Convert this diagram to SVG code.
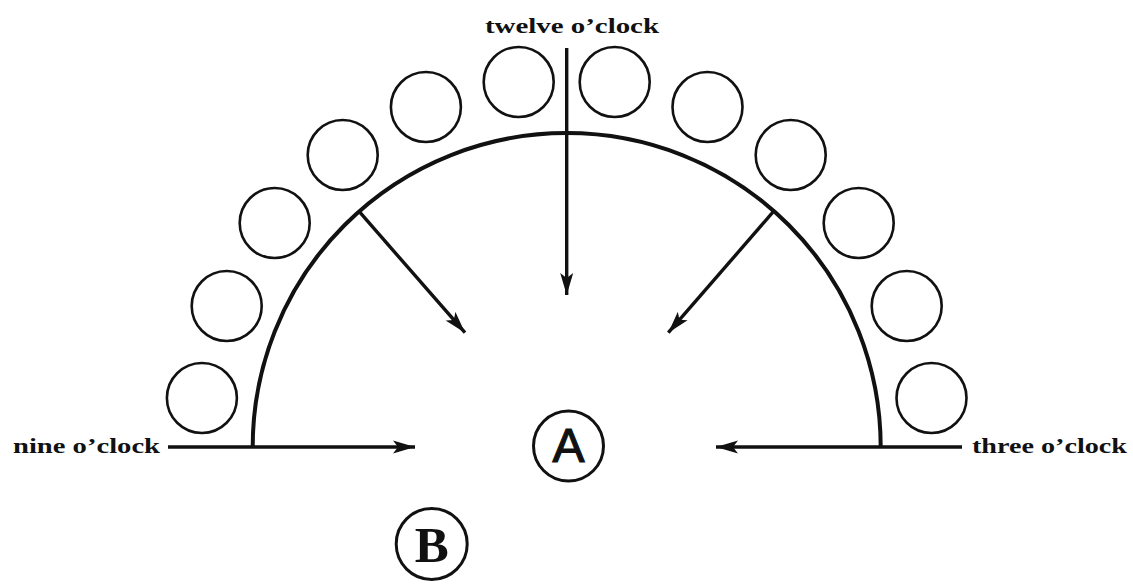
<svg xmlns="http://www.w3.org/2000/svg" width="1133" height="584" viewBox="0 0 1133 584">
<style>
.ball{fill:none;stroke:#111;stroke-width:2.6}
.arc{fill:none;stroke:#111;stroke-width:4}
.arr{fill:none;stroke:#111;stroke-width:3.4}
.lbl{font-family:"Liberation Serif",serif;font-weight:bold;font-size:21px;fill:#111}
.ring{fill:#fff;stroke:#111;stroke-width:3}
</style>
<defs>
<marker id="ah" markerUnits="userSpaceOnUse" markerWidth="24" markerHeight="14" refX="22" refY="7" orient="auto">
<path d="M0,0.5 L22,7 L0,13.5 L5,7 z" fill="#111"/>
</marker>
</defs>
<rect width="1133" height="584" fill="#fff"/>
<g id="dome">
<path class="arc" d="M252.7,447 A314,314 0 0 1 880.7,447"/>
</g>
<g id="balls">
<circle class="ball" cx="518.7" cy="82" r="35"/>
<circle class="ball" cx="425.9" cy="107" r="35"/>
<circle class="ball" cx="342.7" cy="155" r="35"/>
<circle class="ball" cx="274.7" cy="223" r="35"/>
<circle class="ball" cx="226.7" cy="306" r="35"/>
<circle class="ball" cx="201.9" cy="398" r="35"/>
<circle class="ball" cx="614.7" cy="82" r="35"/>
<circle class="ball" cx="707.5" cy="107" r="35"/>
<circle class="ball" cx="790.7" cy="155" r="35"/>
<circle class="ball" cx="858.7" cy="223" r="35"/>
<circle class="ball" cx="906.7" cy="306" r="35"/>
<circle class="ball" cx="931.5" cy="398" r="35"/>
</g>
<g id="connectors">
<line class="arr" x1="566.7" y1="48" x2="566.7" y2="295" marker-end="url(#ah)"/>
<line class="arr" x1="359.3" y1="211.7" x2="465" y2="332.7" marker-end="url(#ah)"/>
<line class="arr" x1="773.3" y1="211.7" x2="668.3" y2="332.7" marker-end="url(#ah)"/>
<line class="arr" x1="168" y1="447" x2="415" y2="447" marker-end="url(#ah)"/>
<line class="arr" x1="962" y1="447" x2="716" y2="447" marker-end="url(#ah)"/>
</g>
<g id="label-twelve"><text class="lbl" x="485" y="33" textLength="174" lengthAdjust="spacingAndGlyphs">twelve o’clock</text></g>
<g id="label-nine"><text class="lbl" x="13" y="453" textLength="147" lengthAdjust="spacingAndGlyphs">nine o’clock</text></g>
<g id="label-three"><text class="lbl" x="972" y="453" textLength="155" lengthAdjust="spacingAndGlyphs">three o’clock</text></g>
<g id="node-A">
<circle class="ring" cx="568.5" cy="446" r="35"/>
<text x="568.5" y="462" text-anchor="middle" font-family="Liberation Sans, sans-serif" font-size="48" fill="#111" stroke="#111" stroke-width="1.2">A</text>
</g>
<g id="node-B">
<circle class="ring" cx="431.7" cy="544" r="35.5"/>
<text x="431.7" y="561.5" text-anchor="middle" font-family="Liberation Serif, serif" font-weight="bold" font-size="51" fill="#111">B</text>
</g>
</svg>
